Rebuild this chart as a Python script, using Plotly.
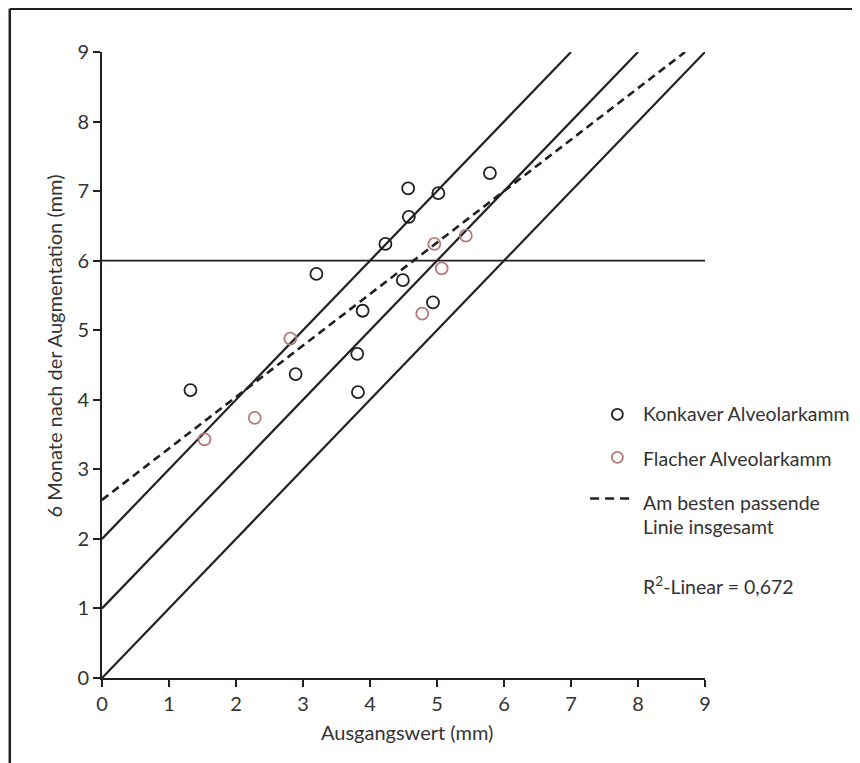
import plotly.graph_objects as go

# ---- data ----
konkav_x = [1.32, 2.89, 3.20, 3.81, 3.82, 3.89, 4.23, 4.49, 4.57, 4.58, 4.94, 5.02, 5.79]
konkav_y = [4.14, 4.37, 5.81, 4.66, 4.11, 5.28, 6.24, 5.72, 7.04, 6.63, 5.40, 6.97, 7.26]
flach_x = [1.53, 2.28, 2.81, 4.78, 4.96, 5.07, 5.43]
flach_y = [3.43, 3.74, 4.88, 5.24, 6.24, 5.89, 6.36]
ref_offsets = [2, 1, 0]          # lines y = x + offset
fit_intercept = 2.56
fit_slope = 0.74
threshold_y = 6
axis_max = 9
tick_vals = list(range(0, 10))
r2_text = "R<sup>2</sup>-Linear = 0,672"

FONT = "Lato"
TXT = "#333333"
LINE = "#231f20"
RED = "#b37a7b"

# page has an 8px body margin; work in page pixels and convert
OFF = 8
W, H = 860 - OFF, 763 - OFF
L, R, T, B = 101.5 - OFF, 705.0 - OFF, 52.3 - OFF, 677.8 - OFF
PW, PH = R - L, B - T


def px(xp):  # page pixel -> paper x
    return (xp - OFF - L) / PW


def py(yp):  # page pixel -> paper y
    return (B - (yp - OFF)) / PH


fig = go.Figure()

# reference lines y = x + c
for c in ref_offsets:
    xe = axis_max - c
    fig.add_trace(go.Scatter(x=[0, xe], y=[c, c + xe], mode="lines",
                             line=dict(color=LINE, width=2.2),
                             showlegend=False, hoverinfo="skip"))

# horizontal threshold line
fig.add_trace(go.Scatter(x=[0, axis_max], y=[threshold_y, threshold_y], mode="lines",
                         line=dict(color=LINE, width=1.6),
                         showlegend=False, hoverinfo="skip"))

# best fit dashed line
x_end = (axis_max - fit_intercept) / fit_slope
fig.add_trace(go.Scatter(x=[0, x_end], y=[fit_intercept, fit_intercept + fit_slope * x_end],
                         mode="lines", line=dict(color=LINE, width=2.6, dash="8px,5px"),
                         showlegend=False, hoverinfo="skip"))

# points
fig.add_trace(go.Scatter(x=konkav_x, y=konkav_y, mode="markers",
                         marker=dict(symbol="circle-open", size=12, color=LINE,
                                     line=dict(width=1.8, color=LINE)),
                         name="Konkaver Alveolarkamm", showlegend=False))
fig.add_trace(go.Scatter(x=flach_x, y=flach_y, mode="markers",
                         marker=dict(symbol="circle-open", size=12, color=RED,
                                     line=dict(width=1.8, color=RED)),
                         name="Flacher Alveolarkamm", showlegend=False))

axis_common = dict(range=[0, axis_max], tickvals=tick_vals, showgrid=False, zeroline=False,
                   showline=True, linecolor=LINE, linewidth=2, ticks="outside",
                   ticklen=7, tickwidth=2, tickcolor=LINE,
                   tickfont=dict(family=FONT, size=20, color=TXT))

shapes = []
annotations = []

# outer frame (top and left edges)
fx = (1.2 - L) / PW
fy = (B - 1.2) / PH
shapes.append(dict(type="line", xref="paper", yref="paper",
                   x0=fx, x1=(W + 5 - L) / PW, y0=fy, y1=fy,
                   line=dict(color=LINE, width=2.5)))
shapes.append(dict(type="line", xref="paper", yref="paper",
                   x0=fx, x1=fx, y0=fy, y1=(B - H - 5) / PH,
                   line=dict(color=LINE, width=2.5)))

# custom legend
r = 5.5
for (cx, cy, col) in [(617.3, 414.3, LINE), (617.3, 457.3, RED)]:
    shapes.append(dict(type="circle", xref="paper", yref="paper",
                       x0=px(cx - r), x1=px(cx + r), y0=py(cy + r), y1=py(cy - r),
                       line=dict(color=col, width=1.8)))
shapes.append(dict(type="line", xref="paper", yref="paper",
                   x0=px(590), x1=px(634), y0=py(498.5), y1=py(498.5),
                   line=dict(color=LINE, width=2.6, dash="9px,6px")))

legend_texts = [
    ("Konkaver Alveolarkamm", 413.5),
    ("Flacher Alveolarkamm", 458),
    ("Am besten passende", 502),
    ("Linie insgesamt", 526.5),
    (r2_text, 585),
]
for txt, yy in legend_texts:
    annotations.append(dict(text=txt, xref="paper", yref="paper", x=px(640.5), y=py(yy),
                            xanchor="left", yanchor="middle", align="left", showarrow=False,
                            font=dict(family=FONT, size=19.5, color=TXT)))

# axis titles
annotations.append(dict(text="Ausgangswert (mm)", xref="paper", yref="paper",
                        x=px(407), y=py(731.5), xanchor="center", yanchor="middle",
                        showarrow=False, font=dict(family=FONT, size=20, color=TXT)))
annotations.append(dict(text="6 Monate nach der Augmentation (mm)", xref="paper", yref="paper",
                        x=px(53), y=py(346), xanchor="center", yanchor="middle",
                        textangle=-90, showarrow=False,
                        font=dict(family=FONT, size=20, color=TXT)))

fig.update_layout(
    width=W, height=H,
    margin=dict(l=L, r=W - R, t=T, b=H - B, pad=0),
    paper_bgcolor="white", plot_bgcolor="white",
    xaxis=axis_common, yaxis=axis_common,
    shapes=shapes, annotations=annotations,
    showlegend=False,
)

fig.write_html("out.html")
